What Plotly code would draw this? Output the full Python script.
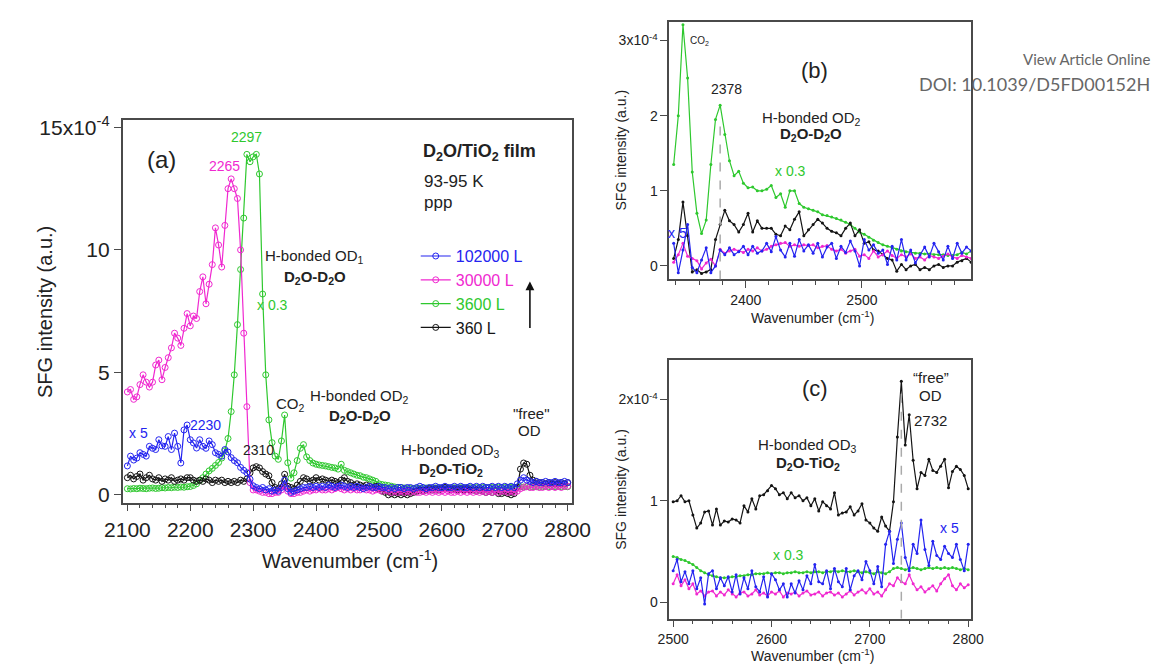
import plotly.graph_objects as go

# ---------------- data (units of 1e-4, as displayed incl. x0.3 / x5 scaling) ----------------
# Panel (a): wavenumber grid 2100..2800 step 5
WN_A = list(range(2100, 2805, 5))

MAG_A = [4.2, 4.3, 3.9, 4.0, 4.5, 4.9, 4.6, 4.4, 4.6, 5.3,
         5.5, 4.7, 5.2, 5.6, 6.0, 6.6, 6.4, 6.1, 6.8, 7.4,
         6.9, 7.3, 7.2, 8.3, 8.9, 7.8, 8.6, 9.4, 10.9, 10.2,
         9.3, 11.0, 12.5, 12.9, 12.5, 12.1, 10.0, 6.6, 3.6, 0.5,
         0.2, 0.2, 0.15, 0.1, 0.1, 0.05, 0.05, 0.1, 0.1, 0.2,
         0.35, 0.15, 0.05, 0.05, 0.1, 0.1, 0.15, 0.2, 0.15, 0.2,
         0.2, 0.25, 0.2, 0.2, 0.25, 0.2, 0.25, 0.3, 0.25, 0.2,
         0.25, 0.2, 0.25, 0.2, 0.2, 0.25, 0.2, 0.2, 0.15, 0.2,
         0.2, 0.15, 0.2, 0.15, 0.1, 0.15, 0.1, 0.15, 0.1, 0.15,
         0.1, 0.15, 0.1, 0.1, 0.15, 0.1, 0.15, 0.1, 0.15, 0.1,
         0.15, 0.1, 0.15, 0.1, 0.1, 0.15, 0.1, 0.15, 0.1, 0.15,
         0.1, 0.15, 0.1, 0.15, 0.1, 0.15, 0.1, 0.15, 0.1, 0.15,
         0.15, 0.1, 0.15, 0.1, 0.15, 0.25, 0.3, 0.35, 0.3, 0.3,
         0.35, 0.3, 0.3, 0.35, 0.3, 0.35, 0.3, 0.35, 0.3, 0.35,
         0.35]

GRN_A = [0.25, 0.24, 0.26, 0.25, 0.27, 0.26, 0.25, 0.27, 0.28, 0.26,
         0.27, 0.29, 0.28, 0.3, 0.29, 0.31, 0.3, 0.32, 0.31, 0.33,
         0.34, 0.38, 0.45, 0.58, 0.7, 0.85, 0.98, 1.08, 1.2, 1.32,
         1.5, 1.8, 2.3, 3.4, 4.9, 6.95, 9.2, 11.3, 13.9, 13.6,
         13.8, 13.9, 13.1, 8.2, 4.9, 3.06, 2.13, 1.58, 1.45, 2.2,
         3.26, 1.31, 0.68, 0.9, 1.4, 1.9, 2.05, 1.55, 1.4, 1.3,
         1.25, 1.22, 1.2, 1.18, 1.15, 1.12, 1.1, 1.05, 1.25, 1.0,
         0.95, 0.9, 0.85, 0.8, 0.78, 0.72, 0.7, 0.65, 0.6, 0.55,
         0.45, 0.42, 0.4, 0.38, 0.35, 0.32, 0.3, 0.3, 0.28, 0.27,
         0.26, 0.26, 0.27, 0.27, 0.28, 0.28, 0.28, 0.27, 0.28, 0.28,
         0.28, 0.29, 0.28, 0.28, 0.29, 0.28, 0.29, 0.28, 0.29, 0.29,
         0.29, 0.3, 0.29, 0.3, 0.3, 0.29, 0.3, 0.3, 0.31, 0.3,
         0.3, 0.31, 0.3, 0.31, 0.32, 0.33, 0.32, 0.33, 0.32, 0.33,
         0.33, 0.32, 0.33, 0.34, 0.33, 0.34, 0.33, 0.34, 0.33, 0.34,
         0.33]

BLU_A = [1.18, 1.58, 1.42, 1.5, 1.72, 1.65, 1.58, 1.98, 1.9, 1.85,
         2.25, 2.0, 1.98, 2.38, 1.85, 2.52, 1.98, 1.3, 2.65, 2.85,
         2.25, 2.12, 1.91, 2.25, 1.98, 1.9, 2.2, 2.05, 1.72, 1.65,
         1.58, 1.85, 1.75, 1.52, 1.4, 1.31, 1.12, 1.0, 0.9, 0.64,
         0.37, 0.3, 0.24, 0.3, 0.2, 0.25, 0.15, 0.2, 0.15, 0.3,
         0.6, 0.25, 0.1, 0.15, 0.2, 0.25, 0.3, 0.3, 0.35, 0.3,
         0.35, 0.3, 0.35, 0.3, 0.4, 0.35, 0.3, 0.35, 0.4, 0.35,
         0.3, 0.35, 0.3, 0.35, 0.3, 0.25, 0.3, 0.35, 0.3, 0.3,
         0.35, 0.3, 0.3, 0.25, 0.3, 0.25, 0.3, 0.3, 0.25, 0.3,
         0.3, 0.25, 0.3, 0.35, 0.3, 0.25, 0.3, 0.3, 0.35, 0.3,
         0.3, 0.35, 0.3, 0.3, 0.35, 0.3, 0.35, 0.3, 0.3, 0.35,
         0.3, 0.35, 0.3, 0.35, 0.3, 0.3, 0.35, 0.3, 0.35, 0.3,
         0.35, 0.3, 0.35, 0.3, 0.45, 0.6, 0.7, 0.6, 0.55, 0.5,
         0.55, 0.5, 0.5, 0.55, 0.5, 0.5, 0.55, 0.5, 0.5, 0.55,
         0.5]

BLK_A = [0.7, 0.8, 0.65, 0.75, 0.85, 0.6, 0.7, 0.8, 0.65, 0.6,
         0.7, 0.55, 0.65, 0.6, 0.7, 0.55, 0.6, 0.65, 0.6, 0.7,
         0.7, 0.6, 0.55, 0.6, 0.55, 0.65, 0.6, 0.5, 0.6, 0.55,
         0.6, 0.5, 0.55, 0.5, 0.55, 0.5, 0.6, 0.55, 0.65, 0.9,
         1.1, 1.15, 1.1, 0.95, 0.85, 0.78, 0.5, 0.3, 0.25, 0.45,
         0.84, 0.35, 0.3, 0.25, 0.4, 0.55, 0.7, 0.65, 0.55, 0.6,
         0.7, 0.6, 0.65, 0.6, 0.55, 0.6, 0.55, 0.5, 0.6, 0.7,
         0.55, 0.5, 0.4, 0.45, 0.4, 0.35, 0.4, 0.35, 0.3, 0.35,
         0.25, 0.15, 0.1, 0.0, 0.05, 0.0, 0.05, 0.0, 0.05, 0.0,
         0.05, 0.1, 0.15, 0.2, 0.15, 0.2, 0.25, 0.2, 0.25, 0.2,
         0.25, 0.3, 0.25, 0.2, 0.25, 0.2, 0.25, 0.2, 0.25, 0.2,
         0.2, 0.15, 0.2, 0.15, 0.1, 0.15, 0.1, 0.15, 0.05, 0.05,
         0.1, 0.05, 0.0, 0.05, 0.3, 1.05, 1.3, 1.25, 0.8, 0.6,
         0.55, 0.5, 0.5, 0.45, 0.5, 0.45, 0.5, 0.45, 0.5, 0.45,
         0.5]

# Panel (b): wavenumber grid 2338..2594 step 4
WN_B = list(range(2338, 2598, 4))

GRN_B = [1.35, 2.0, 3.21, 2.5, 1.25, 0.7, 0.43, 0.61, 1.35, 1.95,
         2.14, 1.75, 1.4, 1.2, 1.26, 1.1, 1.04, 1.05, 1.0, 1.0,
         1.02, 1.07, 0.91, 0.96, 0.78, 1.0, 1.0, 0.83, 0.78, 0.76,
         0.74, 0.72, 0.68, 0.67, 0.65, 0.63, 0.61, 0.58, 0.55, 0.5,
         0.45, 0.42, 0.38, 0.34, 0.31, 0.28, 0.26, 0.24, 0.22, 0.2,
         0.19, 0.18, 0.17, 0.17, 0.16, 0.16, 0.15, 0.15, 0.15, 0.14,
         0.14, 0.15, 0.18, 0.16, 0.2]

BLK_B = [0.1, 0.35, 0.85, 0.4, -0.08, -0.05, -0.1, -0.08, -0.05, 0.35,
         0.55, 0.74, 0.6, 0.55, 0.45, 0.55, 0.7, 0.45, 0.6, 0.5,
         0.5, 0.5, 0.42, 0.4, 0.53, 0.48, 0.62, 0.72, 0.4, 0.48,
         0.55, 0.62, 0.57, 0.5, 0.46, 0.44, 0.4, 0.5, 0.57, 0.4,
         0.48, 0.3, 0.32, 0.21, 0.2, 0.15, 0.1, 0.08, -0.07, 0.02,
         -0.05, 0.0, 0.02, -0.05, -0.02, -0.05, 0.0, 0.02, -0.02, 0.0,
         0.0, 0.05, 0.07, 0.1, 0.05]

MAG_B = [0.05, 0.15, 0.3, 0.13, 0.1, 0.07, -0.04, 0.04, 0.09, 0.0,
         0.22, 0.17, 0.2, 0.22, 0.2, 0.18, 0.22, 0.2, 0.24, 0.2,
         0.22, 0.26, 0.28, 0.3, 0.31, 0.26, 0.28, 0.26, 0.28, 0.27,
         0.28, 0.24, 0.26, 0.27, 0.22, 0.2, 0.22, 0.17, 0.2, 0.22,
         0.13, 0.15, 0.1, 0.2, 0.12, 0.15, 0.2, 0.14, 0.1, 0.15,
         0.12, 0.16, 0.1, 0.12, 0.08, 0.14, 0.12, 0.1, 0.13, 0.16,
         0.12, 0.1, 0.14, 0.12, 0.1]

BLU_B = [0.3, -0.09, 0.21, 0.55, -0.02, -0.09, 0.08, 0.24, -0.09, 0.0,
         0.21, 0.15, 0.24, 0.15, 0.19, 0.26, 0.15, 0.26, 0.17, 0.2,
         0.3, 0.19, 0.39, 0.21, 0.12, 0.3, 0.13, 0.35, 0.2, 0.28,
         0.17, 0.3, 0.12, 0.25, 0.3, 0.1, 0.26, 0.18, 0.33, 0.2,
         0.0, 0.35, 0.21, 0.28, 0.17, 0.21, 0.02, 0.26, 0.08, 0.35,
         0.08, 0.21, 0.04, 0.15, 0.25, 0.12, 0.3, 0.19, 0.08, 0.26,
         0.1, 0.3, 0.17, 0.25, 0.2]

# Panel (c): wavenumber grid 2500..2800 step 4
WN_C = list(range(2500, 2804, 4))

BLK_C = [0.99, 1.0, 1.05, 0.99, 1.0, 0.86, 0.73, 0.78, 0.89, 0.9,
         0.76, 0.92, 0.76, 0.8, 0.79, 0.82, 0.81, 0.78, 0.95, 0.89,
         1.02, 0.92, 1.05, 1.06, 1.1, 1.15, 1.12, 1.06, 1.08, 1.02,
         1.08, 1.03, 1.05, 1.0, 1.03, 0.95, 1.02, 0.9, 0.99, 0.95,
         0.92, 1.08, 0.86, 0.88, 0.89, 0.94, 0.86, 0.9, 0.97, 0.81,
         0.78, 0.73, 0.7, 0.84, 0.75, 0.7, 0.99, 1.63, 2.18, 1.55,
         1.85, 1.4, 1.12, 1.28, 1.25, 1.41, 1.3, 1.28, 1.34, 1.41,
         1.13, 1.29, 1.34, 1.31, 1.25, 1.12]

GRN_C = [0.45, 0.44, 0.42, 0.41, 0.39, 0.37, 0.34, 0.31, 0.29, 0.27,
         0.26, 0.25, 0.24, 0.24, 0.24, 0.25, 0.25, 0.26, 0.26, 0.27,
         0.27, 0.28, 0.28, 0.28, 0.29, 0.28, 0.29, 0.29, 0.28, 0.29,
         0.29, 0.3, 0.29, 0.29, 0.3, 0.29, 0.3, 0.3, 0.29, 0.3,
         0.3, 0.31, 0.3, 0.31, 0.3, 0.3, 0.31, 0.3, 0.29, 0.3,
         0.29, 0.28, 0.3, 0.29, 0.28, 0.3, 0.33, 0.34, 0.33, 0.32,
         0.33, 0.34, 0.33, 0.32, 0.33, 0.34, 0.33, 0.34, 0.33, 0.34,
         0.33, 0.34, 0.33, 0.32, 0.33, 0.32]

MAG_C = [0.18, 0.27, 0.16, 0.22, 0.13, 0.18, 0.08, 0.11, 0.06, 0.1,
         0.11, 0.06, 0.1, 0.07, 0.12, 0.08, 0.05, 0.09, 0.1, 0.06,
         0.08, 0.12, 0.07, 0.09, 0.06, 0.1, 0.08, 0.11, 0.05, 0.09,
         0.08, 0.1, 0.06, 0.09, 0.11, 0.07, 0.08, 0.1, 0.06, 0.09,
         0.1, 0.07, 0.09, 0.05, 0.08, 0.11, 0.07, 0.1, 0.12, 0.09,
         0.13, 0.08, 0.1, 0.06, 0.12, 0.18, 0.16, 0.24, 0.2, 0.18,
         0.27, 0.18, 0.12, 0.15, 0.1, 0.13, 0.16, 0.11, 0.18, 0.23,
         0.27, 0.16, 0.12, 0.18, 0.14, 0.17]

BLU_C = [0.31, 0.42, 0.2, 0.3, 0.18, 0.31, 0.13, 0.24, -0.02, 0.28,
         0.31, 0.13, 0.24, 0.16, 0.25, 0.1, 0.27, 0.08, 0.24, 0.13,
         0.31, 0.15, 0.1, 0.25, 0.05, 0.28, 0.22, 0.12, 0.18, 0.05,
         0.18, 0.09, 0.21, 0.12, 0.26, 0.18, 0.37, 0.2, 0.18, 0.31,
         0.13, 0.33, 0.2, 0.15, 0.33, 0.12, 0.26, 0.31, 0.22, 0.4,
         0.31, 0.18, 0.35, 0.15, 0.57, 0.7, 0.38, 0.62, 0.78, 0.44,
         0.31, 0.57, 0.48, 0.81, 0.52, 0.36, 0.6, 0.46, 0.42, 0.55,
         0.48, 0.44, 0.57, 0.42, 0.31, 0.57]

LEGEND_NAMES = ["102000 L", "30000 L", "3600 L", "360 L"]

for nm, xs, ys in [("MAG_A", WN_A, MAG_A), ("GRN_A", WN_A, GRN_A), ("BLU_A", WN_A, BLU_A), ("BLK_A", WN_A, BLK_A),
                   ("GRN_B", WN_B, GRN_B), ("BLK_B", WN_B, BLK_B), ("MAG_B", WN_B, MAG_B), ("BLU_B", WN_B, BLU_B),
                   ("BLK_C", WN_C, BLK_C), ("GRN_C", WN_C, GRN_C), ("MAG_C", WN_C, MAG_C), ("BLU_C", WN_C, BLU_C)]:
    assert len(xs) == len(ys), (nm, len(xs), len(ys))

# ---------------- styling ----------------
W, H = 1174, 666
BLUE, MAG, GRN, BLK = "#2424f0", "#f028d0", "#2ec82e", "#141414"
AX = "#4a4a4a"
FONT = "Liberation Sans, Arial, sans-serif"


def P(px, py):
    return px / W, 1 - py / H


fig = go.Figure()

# panel (a) traces (drawing order: green, black, magenta, blue)
specA = [(GRN_A, GRN, LEGEND_NAMES[2], 3), (BLK_A, BLK, LEGEND_NAMES[3], 4),
         (MAG_A, MAG, LEGEND_NAMES[1], 2), (BLU_A, BLUE, LEGEND_NAMES[0], 1)]
for ys, col, nm, rank in specA:
    fig.add_trace(go.Scatter(
        x=WN_A, y=ys, mode="lines+markers", xaxis="x", yaxis="y",
        line=dict(color=col, width=1.2),
        marker=dict(symbol="circle-open", size=6, color=col, line=dict(width=1, color=col)),
        name=f'<span style="color:{col}">{nm}</span>', legendrank=rank, showlegend=True))

# panel (b)
for ys, col in [(GRN_B, GRN), (BLK_B, BLK), (MAG_B, MAG), (BLU_B, BLUE)]:
    fig.add_trace(go.Scatter(
        x=WN_B, y=ys, mode="lines+markers", xaxis="x2", yaxis="y2",
        line=dict(color=col, width=1.2), marker=dict(size=3, color=col), showlegend=False))

# panel (c)
for ys, col in [(GRN_C, GRN), (BLK_C, BLK), (MAG_C, MAG), (BLU_C, BLUE)]:
    fig.add_trace(go.Scatter(
        x=WN_C, y=ys, mode="lines+markers", xaxis="x3", yaxis="y3",
        line=dict(color=col, width=1.2), marker=dict(size=3, color=col), showlegend=False))


def xax(domain, rng, dtick, minor, fs, anchor):
    return dict(domain=domain, range=rng, dtick=dtick, tick0=2100, ticks="outside", ticklen=7, tickwidth=1.3,
                tickcolor=AX, showline=True, linecolor=AX, linewidth=1.5, mirror=True, showgrid=False,
                zeroline=False, tickfont=dict(size=fs, color="#222", family=FONT), anchor=anchor,
                minor=dict(dtick=minor, tick0=2100, ticks="outside", ticklen=4, tickcolor=AX, tickwidth=1.2))


def yax(domain, rng, vals, texts, fs, anchor):
    return dict(domain=domain, range=rng, tickvals=vals, ticktext=texts, ticks="outside", ticklen=7,
                tickwidth=1.3, tickcolor=AX, showline=True, linecolor=AX, linewidth=1.5, mirror=True,
                showgrid=False, zeroline=False, tickfont=dict(size=fs, color="#222", family=FONT), anchor=anchor)


xa = [107 / W, 572 / W]
ya = [1 - 504 / H, 1 - 115 / H]
xb = [672 / W, 984 / W]
yb = [1 - 277 / H, 1 - 15 / H]
yc = [1 - 622 / H, 1 - 359 / H]

fig.update_layout(
    width=W, height=H, margin=dict(l=0, r=0, t=0, b=0),
    paper_bgcolor="white", plot_bgcolor="white",
    font=dict(family=FONT, color="#222"),
    xaxis=xax(xa, [2092.3, 2807.7], 100, 20, 21, "y"),
    yaxis=yax(ya, [-0.32, 15.3], [0, 5, 10, 15], ["0", "5", "10", "15x10<sup>-4</sup>"], 21, "x"),
    xaxis2=xax(xb, [2334.2, 2594], 100, 20, 14, "y2"),
    yaxis2=yax(yb, [-0.18, 3.25], [0, 1, 2, 3], ["0", "1", "2", "3x10<sup>-4</sup>"], 14, "x2"),
    xaxis3=xax(xb, [2496, 2803], 100, 20, 14, "y3"),
    yaxis3=yax(yc, [-0.165, 2.39], [0, 1, 2], ["0", "1", "2x10<sup>-4</sup>"], 14, "x3"),
    showlegend=True,
    legend=dict(x=410 / W, y=1 - 236 / H, xanchor="left", yanchor="top", bgcolor="rgba(0,0,0,0)",
                font=dict(size=16, family=FONT), tracegroupgap=0, itemwidth=30),
)

ann = []


def A(text, px, py, size, color="#222", xanchor="center", angle=0, family=FONT):
    x, y = P(px, py)
    ann.append(dict(text=text, x=x, y=y, xref="paper", yref="paper", showarrow=False, xanchor=xanchor,
                    yanchor="middle", textangle=angle, font=dict(size=size, color=color, family=family)))


D2O = "D<sub>2</sub>O"
# panel (a)
A("(a)", 147, 155, 24)
A("2297", 235, 132, 14, GRN)
A("2265", 212, 162, 14, MAG)
A(f"<b>{D2O}/TiO<sub>2</sub> film</b>", 415, 148, 18, xanchor="left")
A("93-95 K", 416, 177, 17, xanchor="left")
A("ppp", 416, 199, 17, xanchor="left")
A("H-bonded OD<sub>1</sub>", 305, 254, 15)
A(f"<b>{D2O}-{D2O}</b>", 306, 275, 15)
A("x 0.3", 262, 303, 14, GRN)
A("CO<sub>2</sub>", 281, 404, 15)
A("H-bonded OD<sub>2</sub>", 352, 396, 15)
A(f"<b>{D2O}-{D2O}</b>", 352, 416, 15)
A("H-bonded OD<sub>3</sub>", 446, 451, 15)
A(f"<b>{D2O}-TiO<sub>2</sub></b>", 446, 470, 15)
A('"free"', 530, 413, 15)
A("OD", 528, 431, 15)
A("x 5", 124, 433, 14, BLUE)
A("2230", 193, 425, 14, BLUE)
A("2310", 247, 450, 14)
A("SFG intensity (a.u.)", 27, 310, 20, angle=-90)
A("Wavenumber (cm<sup>-1</sup>)", 342, 562, 20)
# panel (b)
A("(b)", 822, 65, 22)
A("CO<sub>2</sub>", 703, 35, 10)
A("2378", 731, 83, 14)
A("H-bonded OD<sub>2</sub>", 819, 113, 15)
A(f"<b>{D2O}-{D2O}</b>", 819, 130, 15)
A("x 0.3", 797, 167, 14, GRN)
A("x 5", 681, 230, 14, BLUE)
A("SFG intensity (a.u.)", 622, 145, 14, angle=-90)
A("Wavenumber (cm<sup>-1</sup>)", 820, 315, 14)
# panel (c)
A("(c)", 823, 388, 22)
A("H-bonded OD<sub>3</sub>", 815, 446, 15)
A(f"<b>{D2O}-TiO<sub>2</sub></b>", 815, 464, 15)
A("x 0.3", 795, 557, 14, GRN)
A("\u201cfree\u201d", 942, 377, 15)
A("OD", 942, 395, 15)
A("2732", 942, 420, 15)
A("x 5", 962, 530, 14, BLUE)
A("SFG intensity (a.u.)", 622, 490, 14, angle=-90)
A("Wavenumber (cm<sup>-1</sup>)", 820, 659, 14)
# header
A("View Article Online", 1171, 53, 15, "#666", xanchor="right", family="Lato, sans-serif")
A("DOI: 10.1039/D5FD00152H", 1171, 78, 18, "#666", xanchor="right", family="Lato, sans-serif")

# arrow in legend
ax_, ay_ = P(528, 279)
ann.append(dict(x=ax_, y=ay_, xref="paper", yref="paper", text="", showarrow=True, ax=0, ay=48,
                arrowhead=2, arrowsize=1.1, arrowwidth=1.6, arrowcolor="#111"))
fig.update_layout(annotations=ann)

# dashed markers of peak positions
fig.add_shape(type="line", xref="x2", yref="y2", x0=2378, x1=2378, y0=-0.18, y1=1.9,
              line=dict(color="#aaaaaa", width=1.5, dash="dash"))
fig.add_shape(type="line", xref="x3", yref="y3", x0=2732, x1=2732, y0=-0.165, y1=2.1,
              line=dict(color="#aaaaaa", width=1.5, dash="dash"))

fig.write_html("out.html")
